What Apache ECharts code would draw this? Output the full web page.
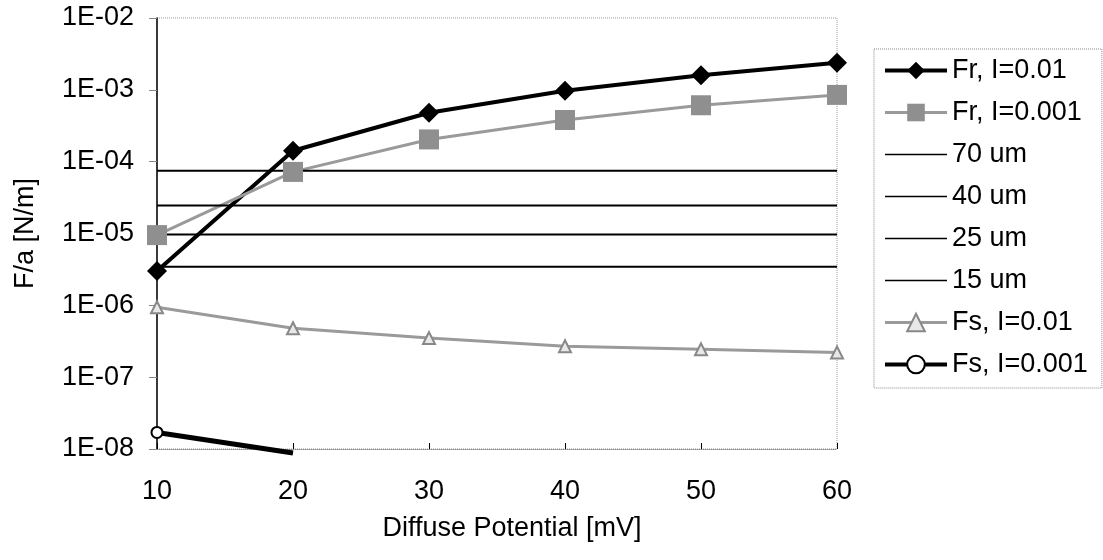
<!DOCTYPE html>
<html>
<head>
<meta charset="utf-8">
<script src="https://cdn.jsdelivr.net/npm/echarts@6/dist/echarts.min.js"></script>
<style>html,body{margin:0;padding:0;background:#fff}#c{width:1103px;height:560px}</style>
</head>
<body>
<div id="c"></div>
<script>
// ---- data ----
const xValues = [10, 20, 30, 40, 50, 60];
const frI01  = [3.0e-6, 1.42e-4, 4.8e-4, 9.7e-4, 1.6e-3, 2.38e-3];
const frI001 = [9.5e-6, 7.2e-5, 2.04e-4, 3.8e-4, 6.1e-4, 8.5e-4];
const um70 = 7.5e-5;
const um40 = 2.45e-5;
const um25 = 9.7e-6;
const um15 = 3.45e-6;
const fsI01  = [9.4e-7, 4.8e-7, 3.5e-7, 2.7e-7, 2.44e-7, 2.2e-7];
const fsI001 = [1.7e-8, 8.8e-9, null, null, null, null];
const seriesNames = ['Fr, I=0.01', 'Fr, I=0.001', '70 um', '40 um', '25 um', '15 um', 'Fs, I=0.01', 'Fs, I=0.001'];
const yMin = 1e-8, yMax = 1e-2;

const FONT = 'Arial, "Liberation Sans", Helvetica, sans-serif';
const pairs = arr => xValues.map((x, i) => arr[i] == null ? null : (arr[i] < yMin ? {value: [x, arr[i]], symbolSize: 0} : [x, arr[i]])).filter(d => d !== null);
const flat = v => xValues.map(x => [x, v]);

function expLabel(v) {
  const e = Math.round(Math.log10(v));
  return '1E' + (e < 0 ? '-' : '+') + String(Math.abs(e)).padStart(2, '0');
}

const hline = (name, v) => ({
  name, type: 'line', data: flat(v), showSymbol: false, symbol: 'circle', symbolSize: 0,
  lineStyle: {color: '#000', width: 2}, itemStyle: {color: 'rgba(0,0,0,0)', borderWidth: 0}, silent: true
});

const legendWidths = [4, 3, 1.5, 1.5, 1.5, 1.5, 3, 4];

const chart = echarts.init(document.getElementById('c'), null, {renderer: 'canvas'});
chart.setOption({
  backgroundColor: '#fff',
  animation: false,
  textStyle: {fontFamily: FONT},
  grid: {left: 157, right: 266, top: 18, bottom: 111, show: true, borderColor: '#999', borderWidth: 1, borderType: 'dotted'},
  legend: {
    orient: 'vertical', left: 874, top: 49,
    padding: [8, 14, 10, 9],
    itemWidth: 62, itemHeight: 22, itemGap: 15,
    borderColor: '#888', borderWidth: 1, borderType: 'dotted',
    textStyle: {fontFamily: FONT, fontSize: 27, lineHeight: 27, color: '#000'},
    data: seriesNames.map((n, i) => ({name: n, lineStyle: {width: legendWidths[i]}}))
  },
  xAxis: {
    type: 'value', min: 10, max: 60, interval: 10,
    name: 'Diffuse Potential [mV]', nameLocation: 'middle', nameGap: 66,
    nameTextStyle: {fontFamily: FONT, fontSize: 27, color: '#000', padding: [0, 0, 0, 30]},
    axisLine: {lineStyle: {color: '#888', width: 1, type: 'dotted'}},
    axisTick: {show: true, inside: true, length: 6, lineStyle: {color: '#000'}},
    axisLabel: {fontFamily: FONT, fontSize: 27, color: '#000', margin: 29},
    splitLine: {show: false}
  },
  yAxis: {
    type: 'log', logBase: 10, min: yMin, max: yMax,
    name: 'F/a [N/m]', nameLocation: 'middle', nameGap: 118, nameRotate: 90,
    nameTextStyle: {fontFamily: FONT, fontSize: 27, color: '#000'},
    axisLine: {show: true, lineStyle: {color: '#000', width: 1.5}},
    axisTick: {show: true, length: 8, lineStyle: {color: '#888'}},
    axisLabel: {fontFamily: FONT, fontSize: 27, color: '#000', margin: 23, formatter: expLabel},
    splitLine: {show: false}
  },
  series: [
    {name: seriesNames[0], type: 'line', data: pairs(frI01), symbol: 'diamond', symbolSize: 20,
      lineStyle: {color: '#000', width: 4}, itemStyle: {color: '#000'}},
    {name: seriesNames[1], type: 'line', data: pairs(frI001), symbol: 'rect', symbolSize: 20,
      lineStyle: {color: '#9a9a9a', width: 3}, itemStyle: {color: '#8f8f8f'}},
    hline(seriesNames[2], um70),
    hline(seriesNames[3], um40),
    hline(seriesNames[4], um25),
    hline(seriesNames[5], um15),
    {name: seriesNames[6], type: 'line', data: pairs(fsI01), symbol: 'triangle', symbolSize: 12,
      lineStyle: {color: '#9a9a9a', width: 3}, itemStyle: {color: '#e8e8e8', borderColor: '#888', borderWidth: 2}},
    {name: seriesNames[7], type: 'line', data: pairs(fsI001), symbol: 'circle', symbolSize: 11, clip: false,
      lineStyle: {color: '#000', width: 5}, itemStyle: {color: '#fff', borderColor: '#000', borderWidth: 2}}
  ]
});
</script>
</body>
</html>
